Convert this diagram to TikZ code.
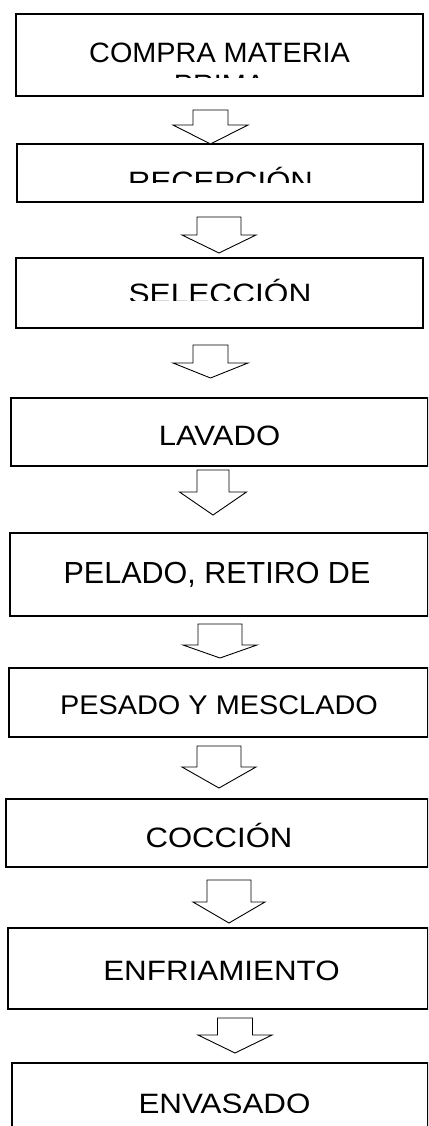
\documentclass[tikz,border=0pt]{standalone}
\usepackage{fontspec}
\setmainfont{Liberation Sans}
\usetikzlibrary{fit}
\newcommand\stepfont{\fontsize{28}{32}\selectfont}
\newcommand\sx[2]{\scalebox{#1}[1]{#2}}
\tikzset{
  boxframe/.style={draw=black, line width=1.6pt, inner sep=0pt, fill=none},
  flowarrow/.style={draw=black, line width=0.9pt, fill=white, line join=miter},
  steptext/.style={anchor=base, inner sep=0pt, font=\stepfont, text=black},
}
% cx, top, shoulder, tip, stem half, head half
\newcommand\blockarrow[7]{%
  \draw[flowarrow] ({#2-#6},#3) -- ({#2+#6},#3) -- ({#2+#6},#4) -- ({#2+#7},#4)
    -- (#2,#5) coordinate (#1) -- ({#2-#7},#4) -- ({#2-#6},#4) -- cycle;}
\begin{document}
\begin{tikzpicture}[x=1pt,y=-1pt]
\useasboundingbox (0,0) rectangle (428,1126);
\clip (0,0) rectangle (428,1126);

% boxes
\node[boxframe, fit={(16,14) (423,96)}] (b1) {};
\node[boxframe, fit={(17,144) (423,202)}] (b2) {};
\node[boxframe, fit={(16,258) (423,328)}] (b3) {};
\node[boxframe, fit={(11,398) (428,466)}] (b4) {};
\node[boxframe, fit={(10,533) (428,616)}] (b5) {};
\node[boxframe, fit={(9,668) (428,737)}] (b6) {};
\node[boxframe, fit={(6,799) (428,867)}] (b7) {};
\node[boxframe, fit={(8,928) (428,1009)}] (b8) {};
\node[boxframe, fit={(12,1063) (428,1150)}] (b9) {};

% texts (clipped as in the text boxes)
\node[steptext] (t1) at (219.5,62.5) {\sx{1.03}{COMPRA MATERIA}};
\begin{scope}
  \clip (0,0) rectangle (428,77.5);
  \node[steptext] (t1b) at (219.5,95) {\sx{1.03}{PRIMA}};
\end{scope}
\begin{scope}
  \clip (0,0) rectangle (428,183);
  \node[steptext] (t2) at (220.5,192) {\sx{1.11}{RECEPCIÓN}};
\end{scope}
\begin{scope}
  \clip (0,0) rectangle (428,300.8);
  \node[steptext] (t3) at (220,303) {\sx{1.13}{SELECCIÓN}};
\end{scope}
\node[steptext] (t4) at (219.5,445) {\sx{1.11}{LAVADO}};
\node[steptext, font=\fontsize{30.5}{34}\selectfont] (t5) at (217,583.5) {PELADO, RETIRO DE};
\node[steptext, font=\fontsize{27}{31}\selectfont] (t6) at (219,714.5) {\sx{1.07}{PESADO Y MESCLADO}};
\begin{scope}
  \clip (0,0) rectangle (428,847.5);
  \node[steptext] (t7) at (219,847.5) {\sx{1.11}{COCCIÓN}};
\end{scope}
\node[steptext] (t8) at (221.5,980) {\sx{1.12}{ENFRIAMIENTO}};
\begin{scope}
  \clip (0,0) rectangle (428,1112);
  \node[steptext] (t9) at (224.5,1113) {\sx{1.12}{ENVASADO}};
\end{scope}

% block arrows between the steps
\blockarrow{a1}{210.5}{110}{125}{144}{17.5}{37.5}
\blockarrow{a2}{219}{217}{235}{253}{22}{37}
\blockarrow{a3}{210.5}{345}{363}{378}{17.5}{37.5}
\blockarrow{a4}{213}{470}{492}{515}{16}{33.5}
\blockarrow{a5}{220}{624}{645}{658}{22}{37}
\blockarrow{a6}{219}{746}{767}{788}{22}{37}
\blockarrow{a7}{229}{880}{902}{923}{22}{36}
\blockarrow{a8}{235}{1018}{1035}{1053}{17.5}{37}
\end{tikzpicture}
\end{document}
